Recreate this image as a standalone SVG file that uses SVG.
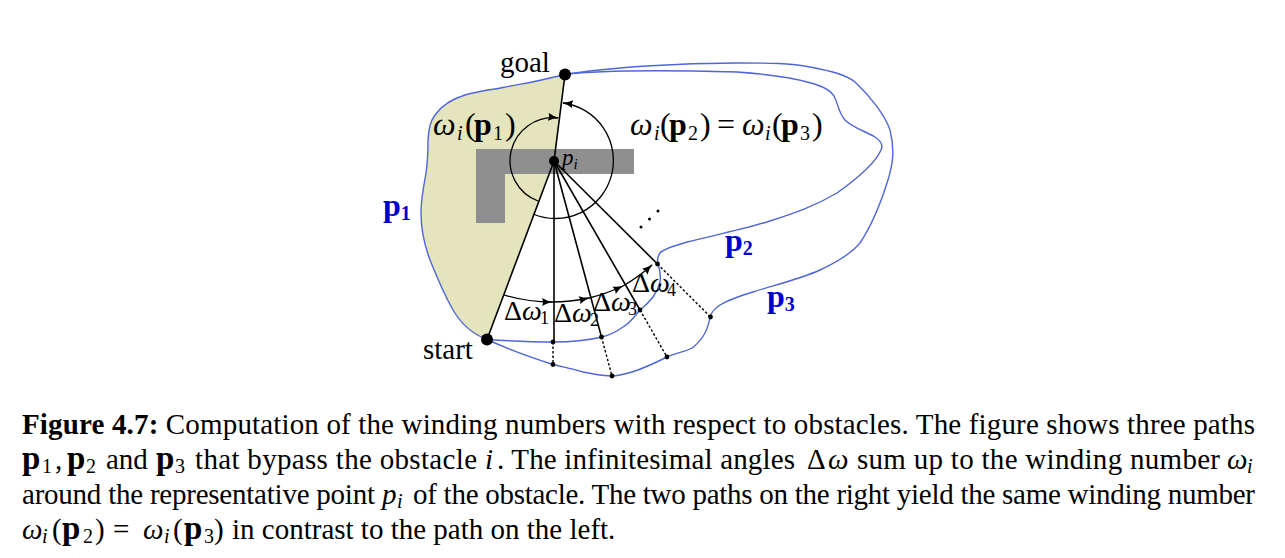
<svg xmlns="http://www.w3.org/2000/svg" width="1285" height="558" viewBox="0 0 1285 558">
<style>
text{font-family:"Liberation Serif","DejaVu Serif",serif;fill:#000}
.cap{font-size:29px}
.lab{font-size:29px}
.m{font-size:32px}
.s{font-size:20px}
.cs{font-size:20px}
.cp{font-size:33px;font-weight:bold}
.b{font-weight:bold}
.i{font-style:italic}
.blue{fill:#0000cc;font-weight:bold;font-size:32px}
.path{fill:none;stroke:#4f66d8;stroke-width:1.4}
.ln{fill:none;stroke:#000;stroke-width:1.6}
.th{fill:none;stroke:#000;stroke-width:1.3}
.dot{fill:none;stroke:#000;stroke-width:1.4;stroke-dasharray:2.5 2}
</style>
<defs>
<marker id="a" markerWidth="12" markerHeight="10" refX="10" refY="5" orient="auto" markerUnits="userSpaceOnUse"><path d="M0 1 Q5 4 11 5 Q5 6 0 9 Q2 5 0 1Z" fill="#000"/></marker>
</defs>
<g id="region-p1"><path d="M487 339.500C470 333 460 322 453 310C444 294 436 275 430 260C424 244 421 228 421 213C421 198 424 185 426 173C428 160 428 150 428 140C429 128 430 122 435 115C442 105 452 99 465 95C480 91 490 90 503 87.500C520 84 535 82 550 78L565 74.500L554 161Z" fill="#e4e4bd"/></g>
<g id="obstacle"><path d="M476 149H634V174H505V223H476Z" fill="#8f8f8f"/></g>
<g id="connectors">
<path id="path-p1" class="path" d="M487 339.500C470 333 460 322 453 310C444 294 436 275 430 260C424 244 421 228 421 213C421 198 424 185 426 173C428 160 428 150 428 140C429 128 430 122 435 115C442 105 452 99 465 95C480 91 490 90 503 87.500C520 84 535 82 550 78L565 74.500"/>
<path id="path-p2" class="path" d="M565 74.500C600 70 660 70 737 72C765 74 790 77 807 82C820 85 830 90 834 96C838 103 838 112 845 120C853 128 865 131 875 137C881 141 883 146 881 150C876 162 858 178 837 193C815 206 795 213 770 221C745 229 715 235 687 242C675 246 664 248 660 253C657 257 657 260 658 264C660 270 661 275 660 282C658 292 650 302 640 310C633 318 630 323 623 327C616 332 610 335 602 337C585 341 570 342 553 342C530 342 510 341 487 339.500"/>
<path id="path-p3" class="path" d="M565 74.500C610 67 680 63 737 63C770 63 790 63 810 67C830 71 845 74 855 82C870 96 885 115 890 130C895 150 893 165 887 183C880 205 870 228 860 243C850 255 835 263 820 270C800 279 775 285 753 292C740 296 728 300 720 305C714 309 711 313 710 317C708 330 703 340 692 348C685 352 675 353 667 357C655 363 645 368 632 372C625 374 618 376 612 376C600 376 590 373 583 372C573 369 563 367 553 364.500C530 357 510 350 487 339.500"/>
<path class="ln" d="M487 339.500L554 161L565 74.500"/>
<path class="ln" d="M554 161V342"/>
<path class="ln" d="M554 161L601.500 337"/>
<path class="ln" d="M554 161L640 310"/>
<path class="ln" d="M554 161L657.500 264"/>
<path class="dot" d="M553 342V364.500"/>
<path class="dot" d="M601.500 337L612 376"/>
<path class="dot" d="M640 310L667 357"/>
<path class="dot" d="M657.500 264L710.500 317"/>
<path class="th" marker-end="url(#a)" d="M538 201A43 43 0 0 1 558 118"/>
<path class="th" marker-end="url(#a)" d="M533 214A58 58 0 1 0 563 103"/>
<path class="th" marker-end="url(#a)" d="M504 295Q527 302 552 302"/>
<path class="th" marker-end="url(#a)" d="M552 302Q570 302 589 298"/>
<path class="th" marker-end="url(#a)" d="M589 298Q606 294 623 286"/>
<path class="th" marker-end="url(#a)" d="M623 286Q640 276 652 265"/>
</g>
<g id="goal"><circle cx="565" cy="74.500" r="6"/><text class="lab" x="500" y="72">goal</text></g>
<g id="start"><circle cx="487" cy="339.500" r="6"/><text class="lab" x="423" y="359">start</text></g>
<g id="point-pi"><circle cx="554" cy="161" r="5"/><text class="i" font-size="23" x="562" y="165">p<tspan font-size="15" dy="4">i</tspan></text></g>
<g id="marks">
<circle cx="553" cy="342" r="2.400"/><circle cx="553" cy="364.500" r="2.400"/><circle cx="601.500" cy="337" r="2.400"/><circle cx="612" cy="376" r="2.400"/><circle cx="640" cy="310" r="2.400"/><circle cx="667" cy="357" r="2.400"/><circle cx="657.500" cy="264" r="2.400"/><circle cx="710.500" cy="317" r="2.400"/>
<circle cx="641" cy="227" r="1.500"/><circle cx="649.500" cy="219" r="1.500"/><circle cx="658" cy="211" r="1.500"/>
</g>
<g id="labels">
<text class="m" y="135"><tspan class="i" x="433">ω</tspan><tspan class="i s" x="457" dy="5">i</tspan><tspan x="465" dy="-5">(</tspan><tspan class="b" x="474">p</tspan><tspan class="s" x="493" dy="5">1</tspan><tspan x="505" dy="-5">)</tspan></text>
<text class="m" y="135"><tspan class="i" x="630">ω</tspan><tspan class="i s" x="654" dy="5">i</tspan><tspan x="660" dy="-5">(</tspan><tspan class="b" x="669">p</tspan><tspan class="s" x="688" dy="5">2</tspan><tspan x="700" dy="-5">)</tspan><tspan x="717">=</tspan><tspan class="i" x="742">ω</tspan><tspan class="i s" x="765" dy="5">i</tspan><tspan x="772" dy="-5">(</tspan><tspan class="b" x="781">p</tspan><tspan class="s" x="800" dy="5">3</tspan><tspan x="812" dy="-5">)</tspan></text>
<text class="blue" x="383" y="216">p<tspan class="s" dy="4">1</tspan></text>
<text class="blue" x="725" y="251">p<tspan class="s" dy="4">2</tspan></text>
<text class="blue" x="767" y="307">p<tspan class="s" dy="4">3</tspan></text>
<text font-size="28" y="320"><tspan x="504">Δ</tspan><tspan class="i" x="522">ω</tspan><tspan font-size="18" x="540" dy="4">1</tspan></text>
<text font-size="28" y="322"><tspan x="554">Δ</tspan><tspan class="i" x="572">ω</tspan><tspan font-size="18" x="590" dy="4">2</tspan></text>
<text font-size="28" y="311"><tspan x="593">Δ</tspan><tspan class="i" x="611">ω</tspan><tspan font-size="18" x="628" dy="4">3</tspan></text>
<text font-size="28" y="292"><tspan x="632">Δ</tspan><tspan class="i" x="650">ω</tspan><tspan font-size="18" x="667" dy="4">4</tspan></text>
</g>
<g id="caption">
<text class="cap" x="22" y="433.500" textLength="1233"><tspan class="b">Figure 4.7:</tspan> Computation of the winding numbers with respect to obstacles. The figure shows three paths</text>
<text class="cap" y="468.500"><tspan class="cp" x="22">p</tspan><tspan class="cs" x="42" dy="4">1</tspan><tspan x="55" dy="-4">,</tspan><tspan class="cp" x="67">p</tspan><tspan class="cs" x="86" dy="4">2</tspan><tspan x="106" dy="-4">and</tspan><tspan class="cp" x="156">p</tspan><tspan class="cs" x="175" dy="4">3</tspan><tspan class="i" x="485" dy="-4">i</tspan><tspan x="807">Δ</tspan><tspan class="i" x="828">ω</tspan><tspan class="i" x="1227">ω</tspan><tspan class="i cs" x="1247" dy="4">i</tspan></text>
<text class="cap" x="195" y="468.500" textLength="282">that bypass the obstacle</text>
<text class="cap" x="497" y="468.500" textLength="298">. The infinitesimal angles</text>
<text class="cap" x="857" y="468.500" textLength="363">sum up to the winding number</text>
<text class="cap" x="22" y="503.500" textLength="353">around the representative point</text>
<text class="cap" y="503.500"><tspan class="i" x="382">p</tspan><tspan class="i cs" x="397" dy="4">i</tspan></text>
<text class="cap" x="413" y="503.500" textLength="842">of the obstacle. The two paths on the right yield the same winding number</text>
<text class="cap" y="539"><tspan class="i" x="22">ω</tspan><tspan class="i cs" x="42" dy="4">i</tspan><tspan x="52" dy="-4">(</tspan><tspan class="cp" x="62">p</tspan><tspan class="cs" x="83" dy="4">2</tspan><tspan x="95" dy="-4">)</tspan><tspan x="113">=</tspan><tspan class="i" x="143">ω</tspan><tspan class="i cs" x="164" dy="4">i</tspan><tspan x="173" dy="-4">(</tspan><tspan class="cp" x="184">p</tspan><tspan class="cs" x="204" dy="4">3</tspan><tspan x="214" dy="-4">)</tspan><tspan x="232">in contrast to the path on the left.</tspan></text>
</g>
</svg>
